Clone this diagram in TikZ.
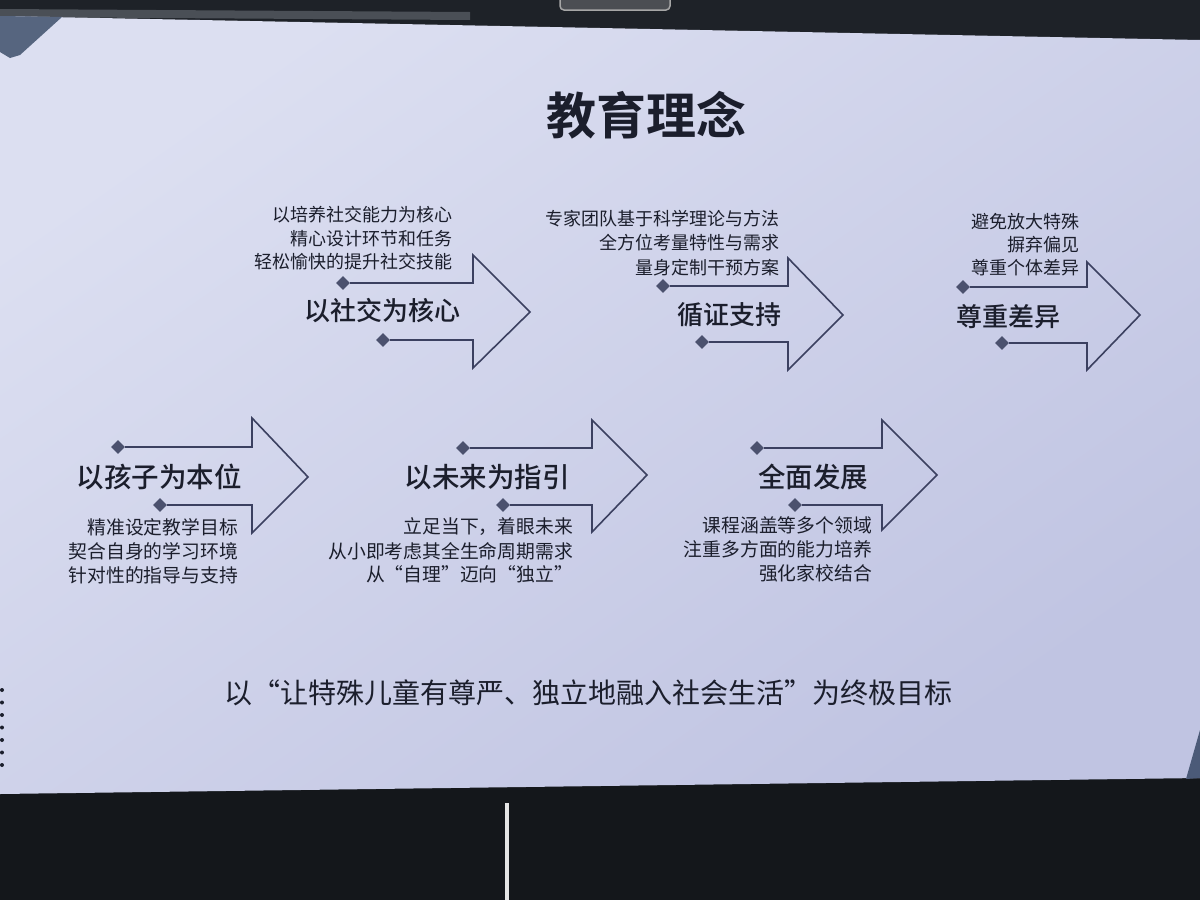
\documentclass[tikz,border=0pt]{standalone}
\usepackage{fontspec}
\usetikzlibrary{shapes.geometric}
\newfontfamily\cjk{Noto Sans CJK SC}
\newfontfamily\cjkm{Noto Sans CJK SC Medium}
\newfontfamily\cjkb{Noto Sans CJK SC Bold}
\definecolor{bezel}{HTML}{1E2228}
\definecolor{bezelB}{HTML}{14171B}
\definecolor{bezelG}{HTML}{4A4F56}
\definecolor{scrA}{HTML}{DCDFF1}
\definecolor{scrB}{HTML}{C0C4E2}
\definecolor{txt}{HTML}{1B1E2C}
\definecolor{arr}{HTML}{3B4060}
\definecolor{dia}{HTML}{4B516E}
\definecolor{decoA}{HTML}{56657F}
\definecolor{decoB}{HTML}{4B5A78}
\tikzset{
  arrowline/.style={draw=arr, line width=1.6pt, line join=miter},
  dot/.style={diamond, fill=dia, minimum size=14pt, inner sep=0pt},
  ttl/.style={text=txt, inner sep=0pt, font=\cjkm\fontsize{26}{30}\selectfont},
  ttlb/.style={text=txt, inner sep=0pt, font=\cjkm\fontsize{27.5}{32}\selectfont},
  desc/.style={text=txt, inner sep=0pt, anchor=east, font=\cjk\fontsize{18}{22}\selectfont},
  descb/.style={text=txt, inner sep=0pt, anchor=east, font=\cjk\fontsize{18.8}{22}\selectfont},
}
\begin{document}
\begin{tikzpicture}[x=1pt,y=-1pt]
\useasboundingbox (0,0) rectangle (1200,900);
% bezel
\fill[bezel] (0,0) rectangle (1200,420);
\fill[bezelB] (0,420) rectangle (1200,900);
\fill[bezelG] (0,9) -- (470,12) -- (470,20) -- (0,17) -- cycle;
\fill[white!80!gray] (505,803) rectangle (509,900);
% camera
\draw[fill=bezel!80!white, draw=gray!70, line width=1.5pt, rounded corners=4pt] (560,-6) rectangle (670,10);
% screen
\shade[shading=axis, top color=scrA, bottom color=scrB, shading angle=35]
  (0,16) -- (1200,40) -- (1200,778) -- (0,794) -- cycle;
% decorations
\fill[decoA] (0,16) -- (62,17) -- (20,55) -- (10,58) -- (0,52) -- cycle;
\fill[decoB] (1200,730) -- (1200,778) -- (1186,779) -- cycle;
\foreach \yy in {690,702.5,715,727.5,740,752.5,765}
  \fill[txt] (2,\yy) circle (2);

% main title
\node[text=txt, inner sep=0pt, font=\cjkb\fontsize{50}{56}\selectfont] (title) at (646,115) {教育理念};

% ---------- arrow 1 ----------
\node[dot] (a1u) at (343,283) {};
\node[dot] (a1l) at (383,340) {};
\draw[arrowline] (a1u) -- (473,283) -- (473,255) -- (530,312) -- (473,368) -- (473,340) -- (a1l);
\node[ttl] (a1t) at (382,311) {以社交为核心};
\node[desc] (a1d1) at (453,215) {以培养社交能力为核心};
\node[desc] (a1d2) at (453,239) {精心设计环节和任务};
\node[desc] (a1d3) at (453,262) {轻松愉快的提升社交技能};

% ---------- arrow 2 ----------
\node[dot] (a2u) at (663,286) {};
\node[dot] (a2l) at (702,342) {};
\draw[arrowline] (a2u) -- (788,286) -- (788,258) -- (843,315) -- (788,370) -- (788,342) -- (a2l);
\node[ttl] (a2t) at (729,315) {循证支持};
\node[desc] (a2d1) at (780,219) {专家团队基于科学理论与方法};
\node[desc] (a2d2) at (780,243) {全方位考量特性与需求};
\node[desc] (a2d3) at (780,268) {量身定制干预方案};

% ---------- arrow 3 ----------
\node[dot] (a3u) at (963,287) {};
\node[dot] (a3l) at (1002,343) {};
\draw[arrowline] (a3u) -- (1087,287) -- (1087,262) -- (1140,315) -- (1087,370) -- (1087,343) -- (a3l);
\node[ttl] (a3t) at (1008,317) {尊重差异};
\node[desc] (a3d1) at (1080,222) {避免放大特殊};
\node[desc] (a3d2) at (1080,245) {摒弃偏见};
\node[desc] (a3d3) at (1080,268) {尊重个体差异};

% ---------- arrow 4 ----------
\node[dot] (a4u) at (118,447) {};
\node[dot] (a4l) at (160,505) {};
\draw[arrowline] (a4u) -- (252,447) -- (252,418) -- (308,477) -- (252,533) -- (252,505) -- (a4l);
\node[ttlb] (a4t) at (159,477) {以孩子为本位};
\node[descb] (a4d1) at (238,527) {精准设定教学目标};
\node[descb] (a4d2) at (238,551) {契合自身的学习环境};
\node[descb] (a4d3) at (238,575) {针对性的指导与支持};

% ---------- arrow 5 ----------
\node[dot] (a5u) at (463,448) {};
\node[dot] (a5l) at (503,505) {};
\draw[arrowline] (a5u) -- (592,448) -- (592,420) -- (647,475) -- (592,532) -- (592,505) -- (a5l);
\node[ttlb] (a5t) at (487,477) {以未来为指引};
\node[descb] (a5d1) at (573,527) {立足当下，着眼未来};
\node[descb] (a5d2) at (573,551) {从小即考虑其全生命周期需求};
\node[descb] (a5d3) at (573,574) {从“自理”迈向“独立”};

% ---------- arrow 6 ----------
\node[dot] (a6u) at (757,448) {};
\node[dot] (a6l) at (795,505) {};
\draw[arrowline] (a6u) -- (882,448) -- (882,420) -- (937,475) -- (882,530) -- (882,505) -- (a6l);
\node[ttlb] (a6t) at (813,477) {全面发展};
\node[descb] (a6d1) at (872,525) {课程涵盖等多个领域};
\node[descb] (a6d2) at (872,549) {注重多方面的能力培养};
\node[descb] (a6d3) at (872,573) {强化家校结合};

% bottom goal
\node[text=txt, inner sep=0pt, font=\cjk\fontsize{28}{32}\selectfont] (goal) at (588,693) {以“让特殊儿童有尊严、独立地融入社会生活”为终极目标};
\end{tikzpicture}
\end{document}
